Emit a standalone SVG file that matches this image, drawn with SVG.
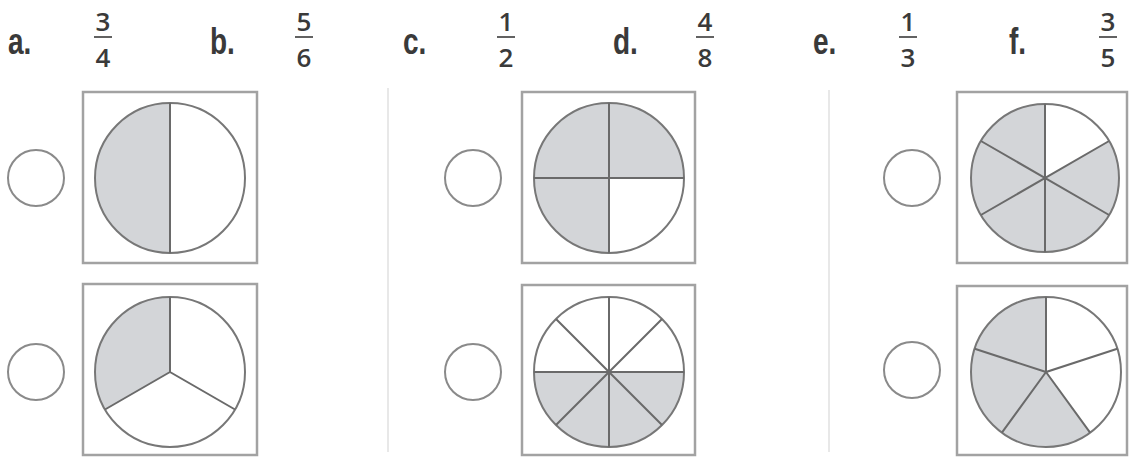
<svg xmlns="http://www.w3.org/2000/svg" width="1129" height="457" viewBox="0 0 1129 457">
<style>
.lbl{font-family:"Liberation Sans",Arial,sans-serif;font-weight:bold;font-size:28px;fill:#3a3a3a}
.num{font-family:"Open Sans","Liberation Sans",Arial,sans-serif;font-weight:600;font-size:26px;fill:#3a3a3a;text-anchor:middle}
.bar{stroke:#3a3a3a;stroke-width:1.6}
.box{fill:#fff;stroke:#a2a2a2;stroke-width:2.5}
.ans{fill:#fff;stroke:#8a8a8a;stroke-width:2}
.pie{fill:none;stroke:#777;stroke-width:2}
.sh{fill:#d3d5d8}
.ln{stroke:#6a6a6a;stroke-width:2;fill:none}
.div{stroke:#e8e8e8;stroke-width:2}
</style>
<rect width="1129" height="457" fill="#fff"/>
<g id="dividers">
<line class="div" x1="388" y1="88" x2="388" y2="452"/>
<line class="div" x1="829" y1="90" x2="829" y2="452"/>
</g>
<g id="labels">
<g id="label-a"><text class="lbl" x="8" y="54" transform="translate(0,-16.2) scale(1,1.3)">a.</text>
<text class="num" x="103" y="31">3</text><line class="bar" x1="94" y1="37" x2="112" y2="37"/><text class="num" x="103" y="67">4</text></g>
<g id="label-b"><text class="lbl" x="210" y="54" transform="translate(0,-16.2) scale(1,1.3)">b.</text>
<text class="num" x="304" y="31">5</text><line class="bar" x1="295" y1="37" x2="313" y2="37"/><text class="num" x="304" y="67">6</text></g>
<g id="label-c"><text class="lbl" x="403" y="54" transform="translate(0,-16.2) scale(1,1.3)">c.</text>
<text class="num" x="506" y="31">1</text><line class="bar" x1="497" y1="37" x2="515" y2="37"/><text class="num" x="506" y="67">2</text></g>
<g id="label-d"><text class="lbl" x="613" y="54" transform="translate(0,-16.2) scale(1,1.3)">d.</text>
<text class="num" x="705" y="31">4</text><line class="bar" x1="696" y1="37" x2="714" y2="37"/><text class="num" x="705" y="67">8</text></g>
<g id="label-e"><text class="lbl" x="813" y="54" transform="translate(0,-16.2) scale(1,1.3)">e.</text>
<text class="num" x="908" y="31">1</text><line class="bar" x1="899" y1="37" x2="917" y2="37"/><text class="num" x="908" y="67">3</text></g>
<g id="label-f"><text class="lbl" x="1009" y="54" transform="translate(0,-16.2) scale(1,1.3)">f.</text>
<text class="num" x="1108" y="31">3</text><line class="bar" x1="1099" y1="37" x2="1117" y2="37"/><text class="num" x="1108" y="67">5</text></g>
</g>
<g id="item-1">
<circle class="ans" cx="36" cy="178" r="28"/>
<rect class="box" x="83" y="92" width="174" height="171"/>
<path class="sh" d="M170,103 A75,75 0 0,0 170,253 Z"/>
<circle class="pie" cx="170" cy="178" r="75"/>
<line class="ln" x1="170" y1="103" x2="170" y2="253"/>
</g>
<g id="item-2">
<circle class="ans" cx="36" cy="372" r="28"/>
<rect class="box" x="83" y="284" width="174" height="171"/>
<path class="sh" d="M170,372 L105,409.5 A75,75 0 0,1 170,297 Z"/>
<circle class="pie" cx="170" cy="372" r="75"/>
<path class="ln" d="M170,297 L170,372 L235,409.5 M170,372 L105,409.5"/>
</g>
<g id="item-3">
<circle class="ans" cx="473" cy="178" r="28"/>
<rect class="box" x="522" y="92" width="173" height="171"/>
<circle class="sh" cx="609" cy="178" r="75"/>
<path fill="#fff" d="M609,178 L684,178 A75,75 0 0,1 609,253 Z"/>
<circle class="pie" cx="609" cy="178" r="75"/>
<path class="ln" d="M609,103 L609,253 M534,178 L684,178"/>
</g>
<g id="item-4">
<circle class="ans" cx="473" cy="372" r="28"/>
<rect class="box" x="522" y="285" width="173" height="170"/>
<path class="sh" d="M534,372 A75,75 0 0,0 684,372 Z"/>
<circle class="pie" cx="609" cy="372" r="75"/>
<path class="ln" d="M609,297 L609,447 M534,372 L684,372 M556,319 L662,425 M662,319 L556,425"/>
</g>
<g id="item-5">
<circle class="ans" cx="912" cy="178" r="28"/>
<rect class="box" x="957" y="92" width="170" height="171"/>
<circle class="sh" cx="1045" cy="178" r="74"/>
<path fill="#fff" d="M1045,178 L1045,104 A74,74 0 0,1 1109.1,141 Z"/>
<circle class="pie" cx="1045" cy="178" r="74"/>
<path class="ln" d="M1045,104 L1045,252 M1109.1,141 L980.9,215 M1109.1,215 L980.9,141"/>
</g>
<g id="item-6">
<circle class="ans" cx="912" cy="370" r="28"/>
<rect class="box" x="957" y="286" width="170" height="169"/>
<path class="sh" d="M1046,372 L1090.1,432.7 A75,75 0 1,1 1046,297 Z"/>
<circle class="pie" cx="1046" cy="372" r="75"/>
<path class="ln" d="M1046,297 L1046,372 L1117.3,348.8 M1046,372 L1090.1,432.7 M1046,372 L1001.9,432.7 M1046,372 L974.7,348.8"/>
</g>
</svg>
